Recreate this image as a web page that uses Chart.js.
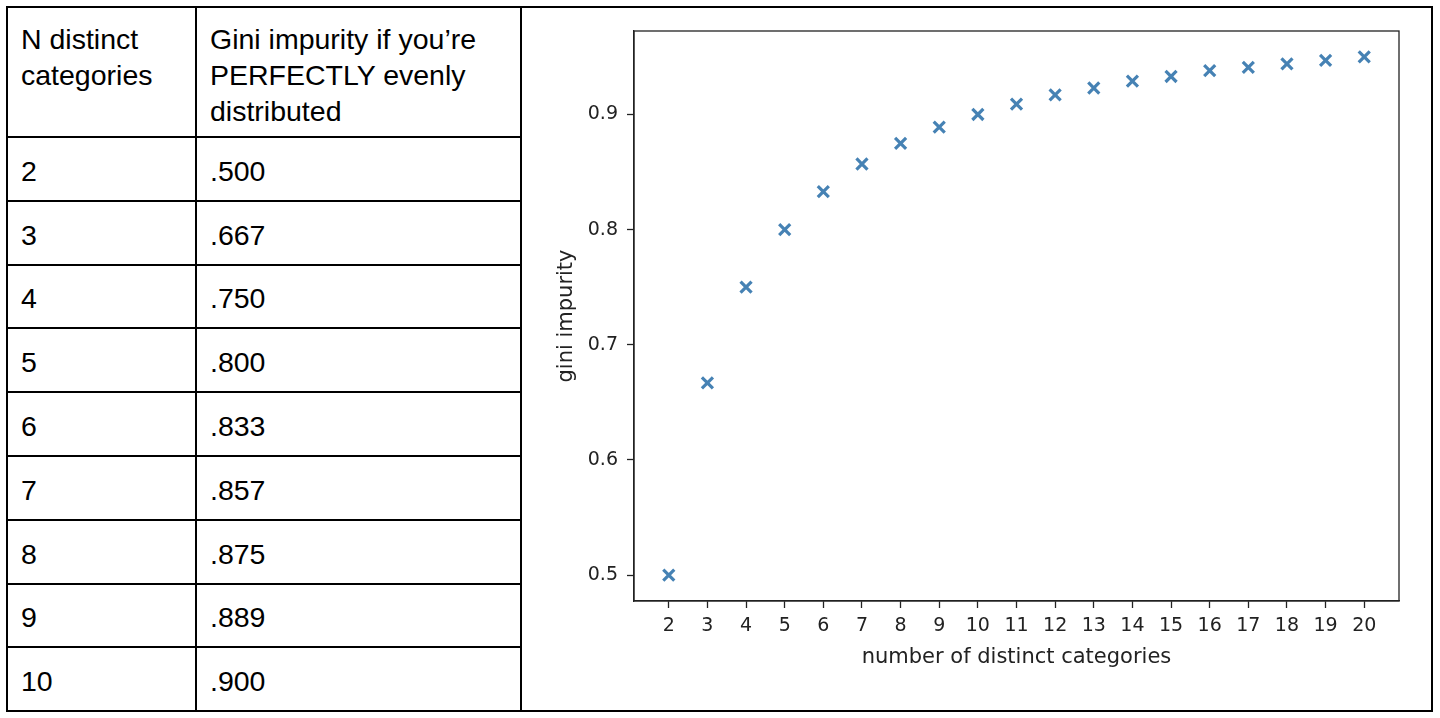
<!DOCTYPE html>
<html>
<head>
<meta charset="utf-8">
<script src="https://cdn.jsdelivr.net/npm/chart.js@4"></script>
<style>
    html, body { margin: 0; padding: 0; background: #fff; }
    body { width: 1440px; height: 718px; position: relative; overflow: hidden; }
    #gini-table {
        position: absolute; left: 6px; top: 6px;
        border-collapse: collapse; table-layout: fixed;
        font-family: "Liberation Sans", Arial, sans-serif; font-size: 28.5px; color: #000;
    }
    #gini-table td { border: 2px solid #000; padding: 0 10px 0 13px; line-height: 36px; }
    #gini-table tr.head td { height: 130px; vertical-align: top; padding-top: 13px; box-sizing: border-box; }
    #gini-table tr.row td { height: 63.8px; vertical-align: middle; padding-top: 4px; box-sizing: border-box; }
    #chart-box { position: absolute; left: 523px; top: 9px; width: 908px; height: 701px; }
</style>
</head>
<body>
<table id="gini-table">
    <colgroup><col style="width:189px"><col style="width:325px"><col style="width:911px"></colgroup>
    <tbody id="gini-body"></tbody>
</table>
<div id="chart-box"><canvas id="gini-chart"></canvas></div>
<script>
    // 표 데이터
    const headerLabels = ['N distinct categories', 'Gini impurity if you’re PERFECTLY evenly distributed'];
    const tableCategories = ['2', '3', '4', '5', '6', '7', '8', '9', '10'];
    const tableGini = ['.500', '.667', '.750', '.800', '.833', '.857', '.875', '.889', '.900'];

    // 차트 데이터
    const categories = [2, 3, 4, 5, 6, 7, 8, 9, 10, 11, 12, 13, 14, 15, 16, 17, 18, 19, 20];
    const giniValues = [0.500, 0.667, 0.750, 0.800, 0.833, 0.857, 0.875, 0.889, 0.900, 0.909,
                        0.917, 0.923, 0.929, 0.933, 0.938, 0.941, 0.944, 0.947, 0.950];
    const yTicks = [0.5, 0.6, 0.7, 0.8, 0.9];
    const xTicks = categories;

    function renderTable() {
        const body = document.getElementById('gini-body');
        let html = `<tr class="head"><td>${headerLabels[0]}</td><td>${headerLabels[1]}</td><td rowspan="${tableCategories.length + 1}"></td></tr>`;
        tableCategories.forEach((c, i) => {
            html += `<tr class="row"><td>${c}</td><td>${tableGini[i]}</td></tr>`;
        });
        body.innerHTML = html;
    }

    // 축 테두리(위/오른쪽 포함) 박스
    const frameBox = {
        id: 'frameBox',
        afterDatasetsDraw(chart) {
            const a = chart.chartArea, ctx = chart.ctx;
            ctx.save();
            ctx.strokeStyle = '#222';
            ctx.lineWidth = 1.3;
            ctx.strokeRect(a.left, a.top, a.right - a.left, a.bottom - a.top);
            ctx.restore();
        }
    };

    function renderChart() {
        const tickFont = { family: 'DejaVu Sans', size: 19 };
        const titleFont = { family: 'DejaVu Sans', size: 21 };
        new Chart(document.getElementById('gini-chart'), {
            type: 'scatter',
            data: {
                datasets: [{
                    data: categories.map((c, i) => ({ x: c, y: giniValues[i] })),
                    pointStyle: 'crossRot',
                    radius: 7.8,
                    borderWidth: 3.2,
                    borderColor: '#4682b4',
                    backgroundColor: '#4682b4'
                }]
            },
            options: {
                responsive: true, maintainAspectRatio: false, animation: false,
                layout: { autoPadding: false, padding: { top: 22, right: 32, left: 0, bottom: 0 } },
                plugins: { legend: { display: false }, tooltip: { enabled: false } },
                scales: {
                    x: {
                        type: 'linear', min: 1.1, max: 20.9,
                        afterBuildTicks: s => { s.ticks = xTicks.map(v => ({ value: v })); },
                        afterFit: s => { s.height = 109; },
                        grid: { drawOnChartArea: false, tickLength: 7, tickColor: '#222', tickWidth: 1.3 },
                        border: { color: '#222', width: 1.3 },
                        ticks: { color: '#222', font: tickFont, padding: 7, maxRotation: 0, autoSkip: false },
                        title: { display: true, text: 'number of distinct categories', color: '#222', font: titleFont, padding: { top: 0, bottom: 40 } }
                    },
                    y: {
                        min: 0.4775, max: 0.9725,
                        afterBuildTicks: s => { s.ticks = yTicks.map(v => ({ value: v })); },
                        afterFit: s => { s.width = 111; },
                        grid: { drawOnChartArea: false, tickLength: 7, tickColor: '#222', tickWidth: 1.3 },
                        border: { color: '#222', width: 1.3 },
                        ticks: { color: '#222', font: tickFont, padding: 9, callback: v => v.toFixed(1) },
                        title: { display: true, text: 'gini impurity', color: '#222', font: titleFont, padding: { top: 31, bottom: 0 } }
                    }
                }
            },
            plugins: [frameBox]
        });
    }

    renderTable();
    renderChart();
</script>
</body>
</html>
